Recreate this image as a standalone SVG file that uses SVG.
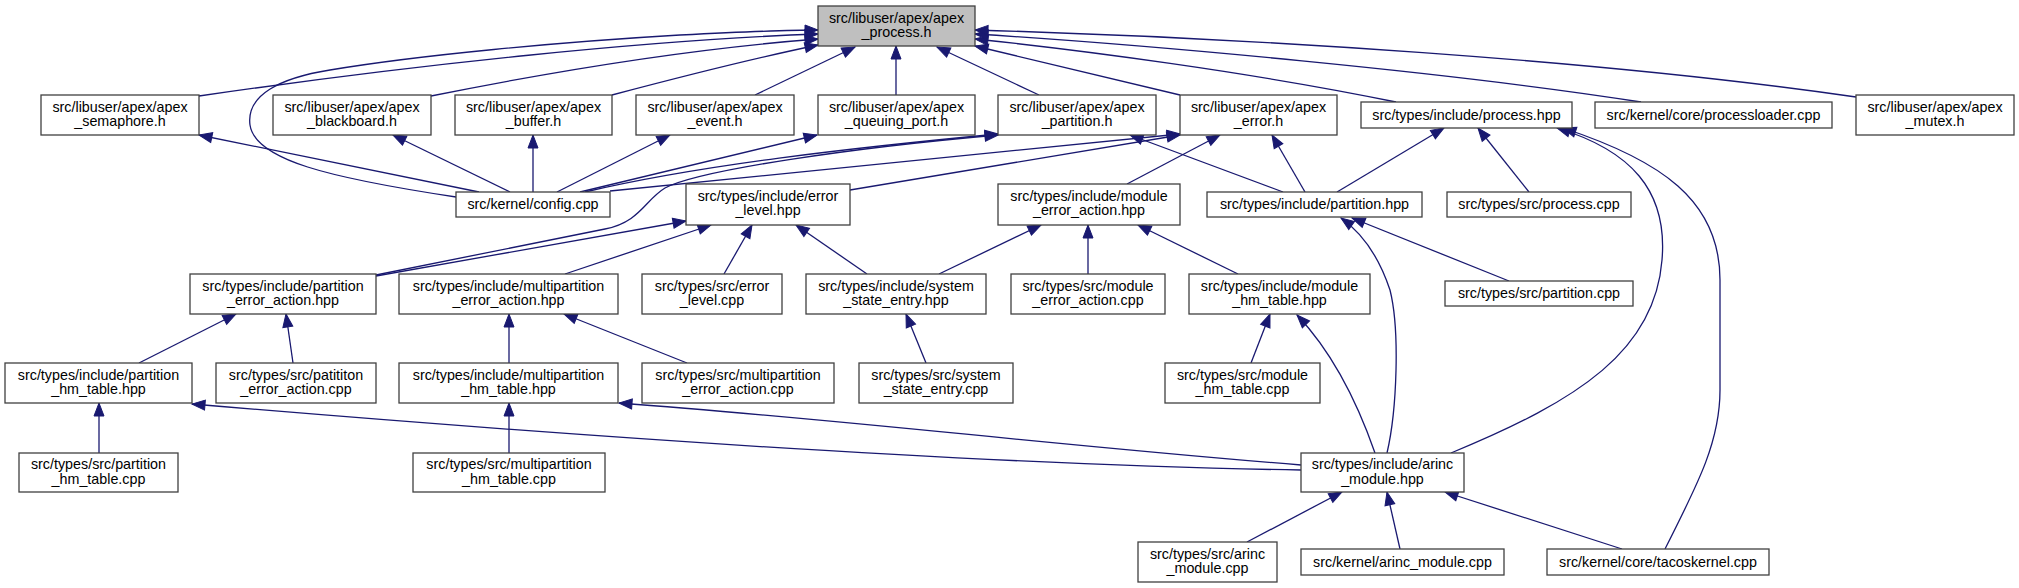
<svg xmlns="http://www.w3.org/2000/svg" width="2019" height="588" viewBox="0 0 2019 588">
<defs>
<style>
.n rect{fill:#ffffff;stroke:#404040;stroke-width:1.3}
.n.h rect{fill:#bfbfbf}
.n text{font-family:"Liberation Sans",Arial,sans-serif;font-size:14.3px;fill:#000;text-anchor:middle}
#edges path{fill:none;stroke:#191970;stroke-width:1.3;marker-end:url(#arr)}
</style>
<marker id="arr" markerWidth="14" markerHeight="12" refX="13" refY="5" orient="auto" markerUnits="userSpaceOnUse" overflow="visible"><path d="M0,0 L13,5 L0,10 Z" fill="#191970" stroke="#191970" stroke-width="1"/></marker>
</defs>
<rect width="2019" height="588" fill="#ffffff"/>
<g id="edges">
<!-- into apex_process.h -->
<path d="M456,197 C330,178 255,160 250,125 C246,95 280,78 330,70 C420,55 560,42 680,35 C740,32 790,30 818,30"/>
<path d="M199,96 C420,64 650,40 818,34"/>
<path d="M431,96 C560,70 700,48 818,39"/>
<path d="M612,95 C680,77 760,57 818,45"/>
<path d="M755,95 L855,47"/>
<path d="M896,95 L896,46"/>
<path d="M1039,95 L937,47"/>
<path d="M1180,95 L975,46"/>
<path d="M1396,102 C1250,72 1080,50 975,39"/>
<path d="M1641,102 C1450,72 1150,45 975,34"/>
<path d="M1856,97 C1600,60 1250,38 975,30"/>
<!-- from config.cpp -->
<path d="M479,192 L199,135"/>
<path d="M510,192 L393,135"/>
<path d="M533,192 L533,135"/>
<path d="M557,192 L670,135"/>
<path d="M580,192 L817,135"/>
<path d="M585,192 C700,165 850,148 998,134"/>
<path d="M610,191 L1180,134"/>
<!-- level 2/3 -->
<path d="M376,275 L605,229 C640,222 645,200 665,188 C700,170 850,148 998,135"/>
<path d="M850,190 L1180,135"/>
<path d="M1127,184 L1220,135"/>
<path d="M1305,192 L1272,135"/>
<path d="M1283,192 L1130,135"/>
<path d="M1337,192 L1444,128"/>
<path d="M1529,192 L1478,128"/>
<path d="M1451,453 C1580,400 1655,350 1662,260 C1668,190 1630,150 1557,128"/>
<path d="M1665,549 C1700,480 1720,440 1720,390 L1720,280 C1720,200 1660,160 1563,128"/>
<path d="M1509,281 L1352,218"/>
<path d="M1387,453 C1397,410 1400,330 1390,290 C1380,260 1365,235 1341,218"/>
<!-- into error_level.hpp -->
<path d="M376,276 L686,221"/>
<path d="M565,274 L711,225"/>
<path d="M724,274 L752,225"/>
<path d="M867,274 L796,225"/>
<!-- into module_error_action.hpp -->
<path d="M939,274 L1041,225"/>
<path d="M1088,274 L1088,225"/>
<path d="M1238,274 L1138,225"/>
<!-- lower levels -->
<path d="M1375,453 C1360,410 1335,355 1297,315"/>
<path d="M1251,363 L1270,314"/>
<path d="M926,363 L906,314"/>
<path d="M687,363 L564,314"/>
<path d="M509,363 L509,314"/>
<path d="M139,363 L236,314"/>
<path d="M293,363 L286,314"/>
<path d="M99,453 L99,403"/>
<path d="M509,453 L509,403"/>
<path d="M1301,470 C1050,466 700,447 192,404"/>
<path d="M1301,465 C1050,445 850,420 619,403"/>
<path d="M1247,542 L1342,492"/>
<path d="M1400,549 L1387,492"/>
<path d="M1622,549 L1445,492"/>
</g>
<g id="n_process_h" class="n h"><rect x="818" y="6" width="157" height="40"/><text><tspan x="896.5" y="22.5">src/libuser/apex/apex</tspan><tspan x="896.5" y="37">_process.h</tspan></text></g>
<g id="n_semaphore" class="n"><rect x="41" y="95" width="158" height="40"/><text><tspan x="120" y="111.5">src/libuser/apex/apex</tspan><tspan x="120" y="126">_semaphore.h</tspan></text></g>
<g id="n_blackboard" class="n"><rect x="273" y="95" width="158" height="40"/><text><tspan x="352" y="111.5">src/libuser/apex/apex</tspan><tspan x="352" y="126">_blackboard.h</tspan></text></g>
<g id="n_buffer" class="n"><rect x="455" y="95" width="157" height="40"/><text><tspan x="533.5" y="111.5">src/libuser/apex/apex</tspan><tspan x="533.5" y="126">_buffer.h</tspan></text></g>
<g id="n_event" class="n"><rect x="636" y="95" width="158" height="40"/><text><tspan x="715" y="111.5">src/libuser/apex/apex</tspan><tspan x="715" y="126">_event.h</tspan></text></g>
<g id="n_queuing" class="n"><rect x="818" y="95" width="157" height="40"/><text><tspan x="896.5" y="111.5">src/libuser/apex/apex</tspan><tspan x="896.5" y="126">_queuing_port.h</tspan></text></g>
<g id="n_partition_h" class="n"><rect x="998" y="95" width="158" height="40"/><text><tspan x="1077" y="111.5">src/libuser/apex/apex</tspan><tspan x="1077" y="126">_partition.h</tspan></text></g>
<g id="n_error_h" class="n"><rect x="1180" y="95" width="157" height="40"/><text><tspan x="1258.5" y="111.5">src/libuser/apex/apex</tspan><tspan x="1258.5" y="126">_error.h</tspan></text></g>
<g id="n_process_hpp" class="n"><rect x="1361" y="102" width="211" height="26"/><text x="1466.5" y="119.5">src/types/include/process.hpp</text></g>
<g id="n_processloader" class="n"><rect x="1595" y="102" width="237" height="26"/><text x="1713.5" y="119.5">src/kernel/core/processloader.cpp</text></g>
<g id="n_mutex" class="n"><rect x="1856" y="95" width="158" height="40"/><text><tspan x="1935" y="111.5">src/libuser/apex/apex</tspan><tspan x="1935" y="126">_mutex.h</tspan></text></g>
<g id="n_config" class="n"><rect x="456" y="192" width="154" height="25"/><text x="533" y="209">src/kernel/config.cpp</text></g>
<g id="n_error_level_hpp" class="n"><rect x="686" y="184" width="164" height="41"/><text><tspan x="768" y="200.5">src/types/include/error</tspan><tspan x="768" y="215">_level.hpp</tspan></text></g>
<g id="n_module_error_action_hpp" class="n"><rect x="998" y="184" width="182" height="41"/><text><tspan x="1089" y="200.5">src/types/include/module</tspan><tspan x="1089" y="215">_error_action.hpp</tspan></text></g>
<g id="n_partition_hpp" class="n"><rect x="1207" y="192" width="215" height="25"/><text x="1314.5" y="209">src/types/include/partition.hpp</text></g>
<g id="n_process_cpp" class="n"><rect x="1447" y="192" width="184" height="25"/><text x="1539" y="209">src/types/src/process.cpp</text></g>
<g id="n_partition_error_action_hpp" class="n"><rect x="190" y="274" width="186" height="40"/><text><tspan x="283" y="290.5">src/types/include/partition</tspan><tspan x="283" y="305">_error_action.hpp</tspan></text></g>
<g id="n_multipartition_error_action_hpp" class="n"><rect x="399" y="274" width="219" height="40"/><text><tspan x="508.5" y="290.5">src/types/include/multipartition</tspan><tspan x="508.5" y="305">_error_action.hpp</tspan></text></g>
<g id="n_error_level_cpp" class="n"><rect x="642" y="274" width="140" height="40"/><text><tspan x="712" y="290.5">src/types/src/error</tspan><tspan x="712" y="305">_level.cpp</tspan></text></g>
<g id="n_system_state_entry_hpp" class="n"><rect x="806" y="274" width="180" height="40"/><text><tspan x="896" y="290.5">src/types/include/system</tspan><tspan x="896" y="305">_state_entry.hpp</tspan></text></g>
<g id="n_module_error_action_cpp" class="n"><rect x="1011" y="274" width="154" height="40"/><text><tspan x="1088" y="290.5">src/types/src/module</tspan><tspan x="1088" y="305">_error_action.cpp</tspan></text></g>
<g id="n_module_hm_table_hpp" class="n"><rect x="1189" y="274" width="181" height="40"/><text><tspan x="1279.5" y="290.5">src/types/include/module</tspan><tspan x="1279.5" y="305">_hm_table.hpp</tspan></text></g>
<g id="n_partition_cpp" class="n"><rect x="1445" y="281" width="188" height="25"/><text x="1539" y="298">src/types/src/partition.cpp</text></g>
<g id="n_partition_hm_table_hpp" class="n"><rect x="5" y="363" width="187" height="40"/><text><tspan x="98.5" y="379.5">src/types/include/partition</tspan><tspan x="98.5" y="394">_hm_table.hpp</tspan></text></g>
<g id="n_patititon_error_action_cpp" class="n"><rect x="216" y="363" width="160" height="40"/><text><tspan x="296" y="379.5">src/types/src/patititon</tspan><tspan x="296" y="394">_error_action.cpp</tspan></text></g>
<g id="n_multipartition_hm_table_hpp" class="n"><rect x="399" y="363" width="219" height="40"/><text><tspan x="508.5" y="379.5">src/types/include/multipartition</tspan><tspan x="508.5" y="394">_hm_table.hpp</tspan></text></g>
<g id="n_multipartition_error_action_cpp" class="n"><rect x="642" y="363" width="192" height="40"/><text><tspan x="738" y="379.5">src/types/src/multipartition</tspan><tspan x="738" y="394">_error_action.cpp</tspan></text></g>
<g id="n_system_state_entry_cpp" class="n"><rect x="859" y="363" width="154" height="40"/><text><tspan x="936" y="379.5">src/types/src/system</tspan><tspan x="936" y="394">_state_entry.cpp</tspan></text></g>
<g id="n_module_hm_table_cpp" class="n"><rect x="1165" y="363" width="155" height="40"/><text><tspan x="1242.5" y="379.5">src/types/src/module</tspan><tspan x="1242.5" y="394">_hm_table.cpp</tspan></text></g>
<g id="n_partition_hm_table_cpp" class="n"><rect x="19" y="453" width="159" height="39"/><text><tspan x="98.5" y="469">src/types/src/partition</tspan><tspan x="98.5" y="483.5">_hm_table.cpp</tspan></text></g>
<g id="n_multipartition_hm_table_cpp" class="n"><rect x="413" y="453" width="192" height="39"/><text><tspan x="509" y="469">src/types/src/multipartition</tspan><tspan x="509" y="483.5">_hm_table.cpp</tspan></text></g>
<g id="n_arinc_module_hpp" class="n"><rect x="1301" y="453" width="163" height="39"/><text><tspan x="1382.5" y="469">src/types/include/arinc</tspan><tspan x="1382.5" y="483.5">_module.hpp</tspan></text></g>
<g id="n_arinc_module_cpp" class="n"><rect x="1138" y="542" width="139" height="40"/><text><tspan x="1207.5" y="558.5">src/types/src/arinc</tspan><tspan x="1207.5" y="573">_module.cpp</tspan></text></g>
<g id="n_kernel_arinc_module_cpp" class="n"><rect x="1301" y="549" width="203" height="26"/><text x="1402.5" y="566.5">src/kernel/arinc_module.cpp</text></g>
<g id="n_tacoskernel_cpp" class="n"><rect x="1547" y="549" width="222" height="26"/><text x="1658" y="566.5">src/kernel/core/tacoskernel.cpp</text></g>
</svg>
